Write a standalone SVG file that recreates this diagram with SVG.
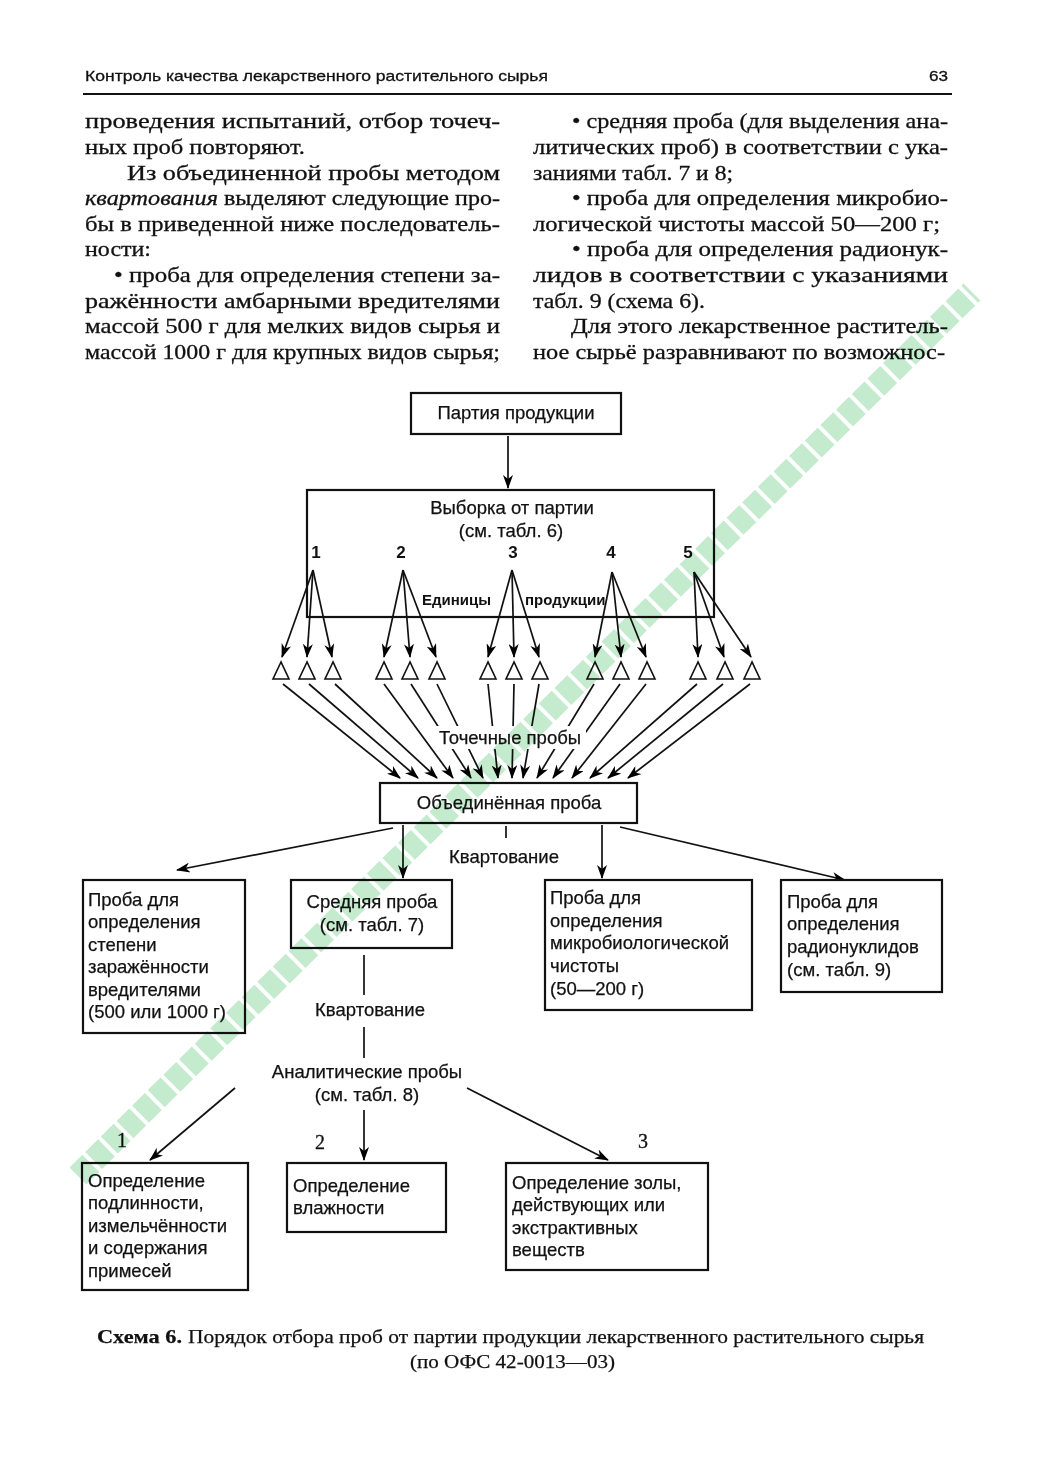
<svg xmlns="http://www.w3.org/2000/svg" width="1049" height="1458" viewBox="0 0 1049 1458">
<defs>
<marker id="ah" markerWidth="14" markerHeight="10" refX="13" refY="5" orient="auto" markerUnits="userSpaceOnUse"><path d="M0,0 L14,5 L0,10 L4,5 z" fill="#000"/></marker>
<style>
.body{font-family:"Liberation Serif","DejaVu Serif",serif;font-size:21.5px;fill:#111;stroke:#111;stroke-width:0.3}
.hdr{font-family:"Liberation Sans",Arial,sans-serif;font-size:15px;fill:#111;stroke:#111;stroke-width:0.3}
.t{font-family:"Liberation Sans",Arial,sans-serif;font-size:18.5px;fill:#111;stroke:#111;stroke-width:0.25}
.tc{font-family:"Liberation Sans",Arial,sans-serif;font-size:18.5px;fill:#111;stroke:#111;stroke-width:0.25;text-anchor:middle}
.num{font-family:"Liberation Sans",Arial,sans-serif;font-size:17px;font-weight:bold;fill:#111;text-anchor:middle}
.sm{font-family:"Liberation Sans",Arial,sans-serif;font-size:15px;font-weight:bold;fill:#111}
.snum{font-family:"Liberation Serif",serif;font-size:20px;fill:#111;stroke:#111;stroke-width:0.3;text-anchor:middle}
.cap{font-family:"Liberation Serif","DejaVu Serif",serif;font-size:19.5px;fill:#111;stroke:#111;stroke-width:0.25}
.box{fill:#fff;stroke:#111;stroke-width:2.2}
.ln{fill:none;stroke:#111;stroke-width:1.7}
.ar{fill:none;stroke:#111;stroke-width:1.7;marker-end:url(#ah)}
.tri{fill:#fff;stroke:#111;stroke-width:1.6}
</style>
</defs>
<rect width="1049" height="1458" fill="#fff"/>

<g id="header">
<text class="hdr" x="85" y="81" textLength="463" lengthAdjust="spacingAndGlyphs">Контроль качества лекарственного растительного сырья</text>
<text class="hdr" x="929" y="81" textLength="19" lengthAdjust="spacingAndGlyphs">63</text>
<line x1="83" y1="94" x2="952" y2="94" stroke="#111" stroke-width="2.2"/>
</g>

<g id="body-left">
<text class="body" x="85" y="128" textLength="415" lengthAdjust="spacingAndGlyphs">проведения испытаний, отбор точеч-</text>
<text class="body" x="85" y="154" textLength="220" lengthAdjust="spacingAndGlyphs">ных проб повторяют.</text>
<text class="body" x="127" y="180" textLength="373" lengthAdjust="spacingAndGlyphs">Из объединенной пробы методом</text>
<text class="body" x="85" y="205" textLength="133" lengthAdjust="spacingAndGlyphs" font-style="italic">квартования</text>
<text class="body" x="224" y="205" textLength="276" lengthAdjust="spacingAndGlyphs">выделяют следующие про-</text>
<text class="body" x="85" y="231" textLength="415" lengthAdjust="spacingAndGlyphs">бы в приведенной ниже последователь-</text>
<text class="body" x="85" y="256" textLength="66" lengthAdjust="spacingAndGlyphs">ности:</text>
<text class="body" x="114" y="282" textLength="386" lengthAdjust="spacingAndGlyphs">• проба для определения степени за-</text>
<text class="body" x="85" y="308" textLength="415" lengthAdjust="spacingAndGlyphs">ражённости амбарными вредителями</text>
<text class="body" x="85" y="333" textLength="415" lengthAdjust="spacingAndGlyphs">массой 500 г для мелких видов сырья и</text>
<text class="body" x="85" y="359" textLength="415" lengthAdjust="spacingAndGlyphs">массой 1000 г для крупных видов сырья;</text>
</g>

<g id="body-right">
<text class="body" x="572" y="128" textLength="376" lengthAdjust="spacingAndGlyphs">• средняя проба (для выделения ана-</text>
<text class="body" x="533" y="154" textLength="415" lengthAdjust="spacingAndGlyphs">литических проб) в соответствии с ука-</text>
<text class="body" x="533" y="180" textLength="200" lengthAdjust="spacingAndGlyphs">заниями табл. 7 и 8;</text>
<text class="body" x="572" y="205" textLength="376" lengthAdjust="spacingAndGlyphs">• проба для определения микробио-</text>
<text class="body" x="533" y="231" textLength="407" lengthAdjust="spacingAndGlyphs">логической чистоты массой 50—200 г;</text>
<text class="body" x="572" y="256" textLength="376" lengthAdjust="spacingAndGlyphs">• проба для определения радионук-</text>
<text class="body" x="533" y="282" textLength="415" lengthAdjust="spacingAndGlyphs">лидов в соответствии с указаниями</text>
<text class="body" x="533" y="308" textLength="172" lengthAdjust="spacingAndGlyphs">табл. 9 (схема 6).</text>
<text class="body" x="571" y="333" textLength="377" lengthAdjust="spacingAndGlyphs">Для этого лекарственное раститель-</text>
<text class="body" x="533" y="359" textLength="412" lengthAdjust="spacingAndGlyphs">ное сырьё разравнивают по возможнос-</text>
</g>

<g id="connectors">
<line class="ar" x1="508" y1="436" x2="508" y2="488"/>
<line class="ar" x1="313" y1="570" x2="282" y2="657"/>
<line class="ar" x1="313" y1="570" x2="307" y2="657"/>
<line class="ar" x1="313" y1="570" x2="332" y2="657"/>
<line class="ar" x1="403" y1="570" x2="384" y2="657"/>
<line class="ar" x1="403" y1="570" x2="410" y2="657"/>
<line class="ar" x1="403" y1="570" x2="436" y2="657"/>
<line class="ar" x1="512" y1="570" x2="488" y2="657"/>
<line class="ar" x1="512" y1="570" x2="514" y2="657"/>
<line class="ar" x1="512" y1="570" x2="539" y2="657"/>
<line class="ar" x1="612" y1="572" x2="595" y2="657"/>
<line class="ar" x1="612" y1="572" x2="621" y2="657"/>
<line class="ar" x1="612" y1="572" x2="646" y2="657"/>
<line class="ar" x1="694" y1="572" x2="698" y2="657"/>
<line class="ar" x1="694" y1="572" x2="724" y2="657"/>
<line class="ar" x1="694" y1="572" x2="751" y2="657"/>
<line class="ar" x1="283" y1="684" x2="400" y2="778"/>
<line class="ar" x1="309" y1="684" x2="418" y2="778"/>
<line class="ar" x1="335" y1="684" x2="437" y2="778"/>
<line class="ar" x1="384" y1="684" x2="453" y2="778"/>
<line class="ar" x1="411" y1="684" x2="471" y2="778"/>
<line class="ar" x1="437" y1="684" x2="483" y2="778"/>
<line class="ar" x1="488" y1="684" x2="498" y2="778"/>
<line class="ar" x1="514" y1="684" x2="512" y2="778"/>
<line class="ar" x1="539" y1="684" x2="523" y2="778"/>
<line class="ar" x1="594" y1="684" x2="537" y2="778"/>
<line class="ar" x1="620" y1="684" x2="553" y2="778"/>
<line class="ar" x1="646" y1="684" x2="572" y2="778"/>
<line class="ar" x1="697" y1="684" x2="590" y2="778"/>
<line class="ar" x1="723" y1="684" x2="608" y2="778"/>
<line class="ar" x1="750" y1="684" x2="628" y2="778"/>
<line class="ar" x1="393" y1="828" x2="177" y2="870"/>
<line class="ar" x1="403" y1="825" x2="403" y2="878"/>
<line class="ln" x1="506" y1="826" x2="506" y2="838"/>
<line class="ar" x1="602" y1="825" x2="602" y2="878"/>
<line class="ar" x1="620" y1="827" x2="845" y2="880"/>
<line class="ln" x1="364" y1="955" x2="364" y2="995"/>
<line class="ln" x1="364" y1="1027" x2="364" y2="1058"/>
<line class="ar" x1="235" y1="1088" x2="150" y2="1160"/>
<line class="ar" x1="364" y1="1110" x2="364" y2="1160"/>
<line class="ar" x1="467" y1="1088" x2="608" y2="1160"/>
</g>

<g id="lot">
<rect class="box" x="411" y="393" width="210" height="41"/>
<text class="tc" x="516" y="419">Партия продукции</text>
</g>

<g id="sample">
<rect x="307" y="490" width="407" height="127" fill="none" stroke="#111" stroke-width="2.2"/>
<text class="tc" x="512" y="514">Выборка от партии</text>
<text class="tc" x="511" y="537">(см. табл. 6)</text>
<text class="num" x="316" y="558">1</text>
<text class="num" x="401" y="558">2</text>
<text class="num" x="513" y="558">3</text>
<text class="num" x="611" y="558">4</text>
<text class="num" x="688" y="558">5</text>
<text class="sm" x="422" y="605">Единицы</text>
<text class="sm" x="525" y="605">продукции</text>
</g>

<g id="point-samples">
<polygon class="tri" points="281,662 273,679 289,679"/>
<polygon class="tri" points="307,662 299,679 315,679"/>
<polygon class="tri" points="333,662 325,679 341,679"/>
<polygon class="tri" points="384,662 376,679 392,679"/>
<polygon class="tri" points="410,662 402,679 418,679"/>
<polygon class="tri" points="437,662 429,679 445,679"/>
<polygon class="tri" points="488,662 480,679 496,679"/>
<polygon class="tri" points="514,662 506,679 522,679"/>
<polygon class="tri" points="540,662 532,679 548,679"/>
<polygon class="tri" points="595,662 587,679 603,679"/>
<polygon class="tri" points="621,662 613,679 629,679"/>
<polygon class="tri" points="647,662 639,679 655,679"/>
<polygon class="tri" points="698,662 690,679 706,679"/>
<polygon class="tri" points="725,662 717,679 733,679"/>
<polygon class="tri" points="752,662 744,679 760,679"/>
<rect x="436" y="726" width="150" height="23" fill="#fff"/>
<text class="tc" x="510" y="744">Точечные пробы</text>
</g>

<g id="combined">
<rect class="box" x="380" y="783" width="257" height="40"/>
<text class="tc" x="509" y="809">Объединённая проба</text>
<text class="tc" x="504" y="863">Квартование</text>
</g>

<g id="infestation">
<rect class="box" x="83" y="880" width="162" height="153"/>
<text class="t" x="88" y="906">Проба для</text>
<text class="t" x="88" y="928">определения</text>
<text class="t" x="88" y="951">степени</text>
<text class="t" x="88" y="973">заражённости</text>
<text class="t" x="88" y="996">вредителями</text>
<text class="t" x="88" y="1018">(500 или 1000 г)</text>
</g>

<g id="average">
<rect class="box" x="291" y="880" width="161" height="68"/>
<text class="tc" x="372" y="908">Средняя проба</text>
<text class="tc" x="372" y="931">(см. табл. 7)</text>
<text class="tc" x="370" y="1016">Квартование</text>
</g>

<g id="microbio">
<rect class="box" x="545" y="880" width="207" height="130"/>
<text class="t" x="550" y="904">Проба для</text>
<text class="t" x="550" y="927">определения</text>
<text class="t" x="550" y="949">микробиологической</text>
<text class="t" x="550" y="972">чистоты</text>
<text class="t" x="550" y="995">(50—200 г)</text>
</g>

<g id="radio">
<rect class="box" x="781" y="880" width="161" height="112"/>
<text class="t" x="787" y="908">Проба для</text>
<text class="t" x="787" y="930">определения</text>
<text class="t" x="787" y="953">радионуклидов</text>
<text class="t" x="787" y="976">(см. табл. 9)</text>
</g>

<g id="analytic">
<text class="tc" x="367" y="1078">Аналитические пробы</text>
<text class="tc" x="367" y="1101">(см. табл. 8)</text>
<text class="snum" x="122" y="1147">1</text>
<text class="snum" x="320" y="1149">2</text>
<text class="snum" x="643" y="1148">3</text>
</g>

<g id="authenticity">
<rect class="box" x="82" y="1163" width="166" height="127"/>
<text class="t" x="88" y="1187">Определение</text>
<text class="t" x="88" y="1209">подлинности,</text>
<text class="t" x="88" y="1232">измельчённости</text>
<text class="t" x="88" y="1254">и содержания</text>
<text class="t" x="88" y="1277">примесей</text>
</g>

<g id="moisture">
<rect class="box" x="287" y="1163" width="159" height="69"/>
<text class="t" x="293" y="1192">Определение</text>
<text class="t" x="293" y="1214">влажности</text>
</g>

<g id="ash">
<rect class="box" x="506" y="1163" width="202" height="107"/>
<text class="t" x="512" y="1189">Определение золы,</text>
<text class="t" x="512" y="1211">действующих или</text>
<text class="t" x="512" y="1234">экстрактивных</text>
<text class="t" x="512" y="1256">веществ</text>
</g>

<g id="caption">
<text class="cap" x="97" y="1343" font-weight="bold" textLength="85" lengthAdjust="spacingAndGlyphs">Схема 6.</text>
<text class="cap" x="188" y="1343" textLength="736" lengthAdjust="spacingAndGlyphs">Порядок отбора проб от партии продукции лекарственного растительного сырья</text>
<text class="cap" x="410" y="1368" textLength="205" lengthAdjust="spacingAndGlyphs">(по ОФС 42-0013—03)</text>
</g>

<g id="watermark" style="mix-blend-mode:multiply">
<line x1="78" y1="1176" x2="972" y2="292" stroke="#c4ebce" stroke-width="24" stroke-dasharray="18 4"/>
</g>
</svg>
